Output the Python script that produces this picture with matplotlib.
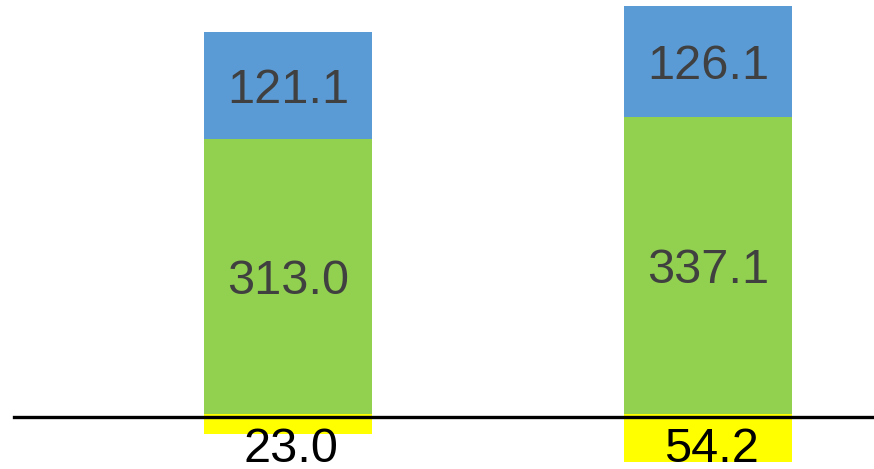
import matplotlib
matplotlib.use("Agg")
import matplotlib.pyplot as plt
import matplotlib.transforms as mtransforms
from matplotlib.lines import Line2D
import numpy as np

categories = ["A", "B"]
yellow_vals = [23.0, 54.2]   # drawn below the axis
green_vals = [313.0, 337.1]
blue_vals = [121.1, 126.1]

plt.rcParams['font.family'] = ['Liberation Sans', 'DejaVu Sans']

fig = plt.figure(figsize=(8.74, 4.69), dpi=100)
ax = fig.add_axes([0, 0, 1, 1])

x = np.arange(len(categories))
w = 0.4
neg_yellow = [-v for v in yellow_vals]
ax.bar(x, neg_yellow, width=w, color="#FFFF00", zorder=2)
ax.bar(x, green_vals, width=w, color="#92D050", zorder=2)
ax.bar(x, blue_vals, width=w, bottom=green_vals, color="#5B9BD5", zorder=2)

line_offset = mtransforms.ScaledTranslation(0, -3 / 100, fig.dpi_scale_trans)
base_line = Line2D([0.016, 1], [0, 0], color="black", lw=2.4, zorder=3,
                   transform=ax.get_yaxis_transform(which="grid") + line_offset)
ax.add_line(base_line)

for xi, g, b, yv in zip(x, green_vals, blue_vals, yellow_vals):
    ax.annotate(f"{g:.1f}", xy=(xi, g / 2), xytext=(0, -5), textcoords="offset pixels",
                ha="center", va="center", fontsize=35, color="#404040", zorder=4)
    ax.annotate(f"{b:.1f}", xy=(xi, g + b / 2), xytext=(0, -5), textcoords="offset pixels",
                ha="center", va="center", fontsize=35, color="#404040", zorder=4)
    ax.annotate(f"{yv:.1f}", xy=(xi, 0), xytext=(3, -13), textcoords="offset pixels",
                ha="center", va="top", fontsize=35, color="black", zorder=4)

ax.set_xlim(-0.686, 1.395)
ax.set_ylim(-62.5, 470.5)
ax.axis("off")

fig.savefig("out.png", dpi=100)
